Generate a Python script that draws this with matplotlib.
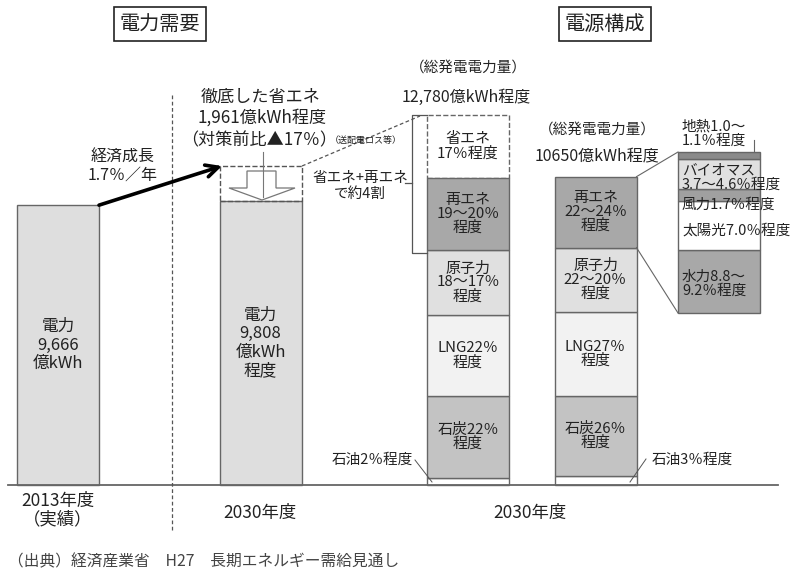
import numpy as np
import matplotlib
matplotlib.use("Agg")
import matplotlib.pyplot as plt
from matplotlib.patches import Polygon

plt.rcParams['font.family'] = ['Noto Sans CJK JP', 'DejaVu Sans']

# ---- data (億kWh and % shares) ----
demand_values = [9666, 9808]
demand_text = ['電力\n9,666\n億kWh', '電力\n9,808\n億kWh\n程度']
year_text = ['2013年度\n（実績）', '2030年度', '2030年度']

total_before = 12780   # 総発電電力量 before savings
total_after = 10650

# bottom -> top
mix_before_pct = [2, 22, 22, 17.5, 19.5, 17]
mix_before_text = ['', '石炭22％\n程度', 'LNG22％\n程度', '原子力\n18～17％\n程度',
                   '再エネ\n19～20％\n程度', '省エネ\n17％程度']
mix_after_pct = [3, 26, 27, 21, 23]
mix_after_text = ['', '石炭26％\n程度', 'LNG27％\n程度', '原子力\n22～20％\n程度',
                  '再エネ\n22～24％\n程度']
mix_colors = ['white', '#c3c3c3', '#f2f2f2', '#e0e0e0', '#a8a8a8', 'white']

# renewables breakdown, bottom -> top
renew_pct = [9.0, 7.0, 1.7, 4.15, 1.05]
renew_text = ['水力8.8～\n9.2％程度', '太陽光7.0％程度', '風力1.7％程度',
              'バイオマス\n3.7～4.6％程度', '地熱1.0～\n1.1％程度']
renew_colors = ['#a8a8a8', 'white', '#a0a0a0', '#e0e0e0', '#8a8a8a']

# ---- layout (pixels of the 800x579 canvas) ----
W, H = 800, 579
BASE = 485                    # baseline, px from top
K = 370 / total_before        # px per 億kWh
BAR_W = 82
bar_x = [58, 260.5, 468, 595.5]
EDGE = '#666666'
TXT = '#222222'

fig = plt.figure(figsize=(W / 100, H / 100), dpi=100)

ax = fig.add_axes([0, 0, 1, 1])
ax.set_xlim(0, W)
ax.set_ylim(-(H - BASE) / K, BASE / K)
ax.axis('off')


def to_px(v):
    return BASE - v * K


# demand bars
for x, v, s in zip(bar_x[:2], demand_values, demand_text):
    ax.bar(x, v, width=BAR_W, color='#dedede', edgecolor=EDGE, linewidth=1)
    ax.text(x, v / 2, s, ha='center', va='center', fontsize=12,
            color=TXT, linespacing=1.1)

# dashed savings box above the 2030 demand bar (schematic height)
save_top = (BASE - 166) / K
ax.bar(bar_x[1], save_top - demand_values[1], bottom=demand_values[1],
       width=BAR_W, fill=False, edgecolor='#555555', linestyle='--', linewidth=1)

# generation mix bars
for x, pct, labels, total in [(bar_x[2], mix_before_pct, mix_before_text, total_before),
                              (bar_x[3], mix_after_pct, mix_after_text, total_after)]:
    vals = np.array(pct) / 100 * total
    bottoms = np.concatenate([[0], np.cumsum(vals)[:-1]])
    for i, (v, b, s) in enumerate(zip(vals, bottoms, labels)):
        dashed = (i == 5)
        ax.bar(x, v, bottom=b, width=BAR_W, color=mix_colors[i], edgecolor=EDGE,
               linewidth=1, linestyle='--' if dashed else '-',
               zorder=1 if dashed else 2)
        if s:
            ax.text(x, b + v / 2, s, ha='center', va='center', fontsize=10.8,
                    color=TXT, linespacing=1.0, zorder=3)

after_vals = np.array(mix_after_pct) / 100 * total_after
after_top_px = to_px(after_vals.sum())
renew_bot_px = to_px(after_vals[:4].sum())

# renewables breakdown inset
in_top, in_bot, in_l, in_r = 152, 313, 678, 760
iax = fig.add_axes([in_l / W, (H - in_bot) / H, (in_r - in_l) / W, (in_bot - in_top) / H])
iax.set_xlim(0, 1)
iax.set_ylim(0, sum(renew_pct))
iax.axis('off')
rb = np.concatenate([[0], np.cumsum(renew_pct)[:-1]])
iax.bar(0.5, renew_pct, bottom=rb, width=1, color=renew_colors, edgecolor=EDGE,
        linewidth=1, clip_on=False)

# ---- annotation layer in pixel coords ----
ann = fig.add_axes([0, 0, 1, 1])
ann.set_xlim(0, W)
ann.set_ylim(H, 0)
ann.axis('off')


def line(xs, ys, **kw):
    kw.setdefault('color', '#555555')
    kw.setdefault('lw', 0.9)
    ann.plot(xs, ys, **kw)


def txt(x, y, s, size=11.5, ha='center', **kw):
    kw.setdefault('color', TXT)
    ann.text(x, y, s, ha=ha, va='center', fontsize=size, **kw)


# baseline and divider
line([8, 778], [BASE, BASE], color='#666666', lw=1.3)
line([172, 172], [95, 530], ls=(0, (3, 2)), lw=0.9)

# titles
for x, s in [(160, '電力需要'), (605, '電源構成')]:
    txt(x, 24, s, size=14.5,
        bbox=dict(boxstyle='square,pad=0.3', fc='white', ec='#222222', lw=1.2))

# growth arrow
ann.annotate('', xy=(222, 166), xytext=(bar_x[0] + BAR_W / 2, to_px(demand_values[0])),
             arrowprops=dict(arrowstyle='->', lw=2.6, color='black', mutation_scale=22,
                             shrinkA=0, shrinkB=0))
txt(123, 166, '経済成長\n1.7％／年', linespacing=1.1)

# savings block arrow
ann.add_patch(Polygon([(247, 171), (276, 171), (276, 188), (295, 188), (262, 200),
                       (229, 188), (247, 188)], closed=True, fc='white', ec='#777777', lw=0.9))
line([263, 263], [152, 197], color='#777777', lw=0.8)
txt(261, 97, '徹底した省エネ', size=12.3)
txt(262, 118, '1,961億kWh程度', size=12.3)
txt(259, 140, '（対策前比▲17％）', size=12.3)
txt(366, 140, '（送配電ロス等）', size=6.5)

# dashed link to left mix bar + bracket
line([302, 420], [166, 116], ls=(0, (3, 2)), lw=0.9)
line([427, 412, 412, 427], [115, 115, 253, 253], color='#555555', lw=0.9)
line([405, 412], [183, 183], lw=0.9)
txt(360, 186, '省エネ+再エネ\nで約4割', size=10.5, linespacing=1.1)

# totals
txt(468, 68, '（総発電電力量）', size=10.5)
txt(466, 97, '12,780億kWh程度', size=11.5)
txt(597, 130, '（総発電電力量）', size=10.5)
txt(597, 157, '10650億kWh程度', size=11.5)

# links to inset
line([bar_x[3] + BAR_W / 2, in_l], [after_top_px, in_top], color='#666666', lw=0.8)
line([bar_x[3] + BAR_W / 2, in_l], [renew_bot_px, in_bot], color='#666666', lw=0.8)
line([754, 754], [140, in_top], color='#666666', lw=0.8)

# inset labels
inset_pos = [(682, 284), (682, 231), (682, 205), (682, 178), (682, 134)]
for (x, y), s in zip(inset_pos, renew_text):
    txt(x, y, s, size=10.5, ha='left', linespacing=1.05)

# oil leaders
txt(372, 460, '石油2％程度', size=10.5)
line([415, 432], [460, 482], lw=0.7)
txt(692, 460, '石油3％程度', size=10.5)
line([630, 646], [482, 459], lw=0.7)

# years
txt(58, 510, year_text[0], size=12.5, linespacing=1.0)
txt(260, 513, year_text[1], size=12.5)
txt(530, 513, year_text[2], size=12.5)

txt(8, 562, '（出典）経済産業省　H27　長期エネルギー需給見通し', size=11.3, ha='left',
    color='#444444')

fig.savefig('out.png', dpi=100)
